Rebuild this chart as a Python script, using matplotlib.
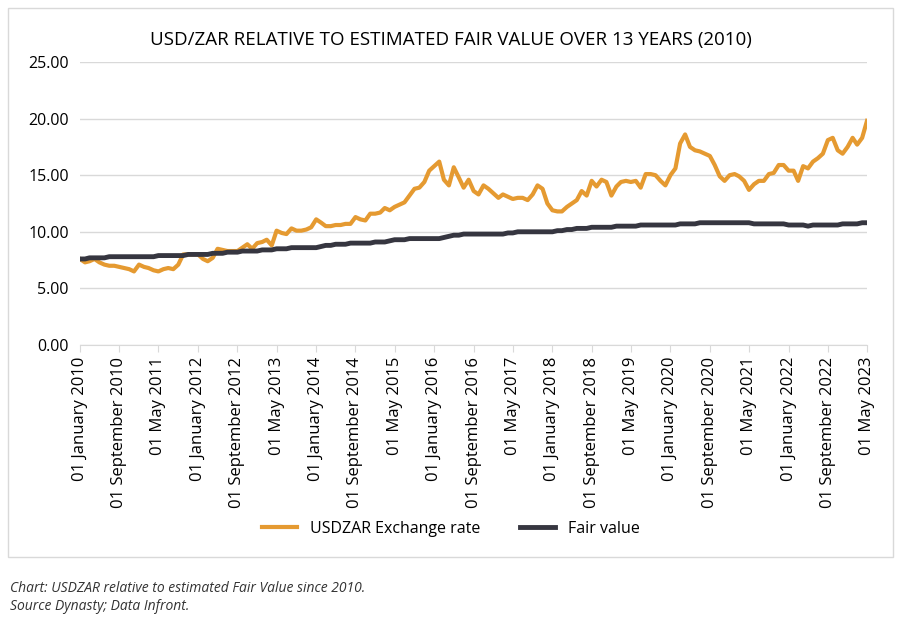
import matplotlib
matplotlib.use("Agg")
import matplotlib.pyplot as plt
import matplotlib.patches as mpatches
import pandas as pd

plt.rcParams['font.family'] = ['Open Sans', 'DejaVu Sans']

# monthly values, Jan 2010 .. May 2023
usdzar = [
    7.6, 7.3, 7.4, 7.6, 7.3, 7.1, 7.0, 7.0, 6.9, 6.8, 6.7, 6.5,
    7.1, 6.9, 6.8, 6.6, 6.5, 6.7, 6.8, 6.7, 7.1, 8.0, 8.0, 8.0,
    8.0, 7.6, 7.4, 7.7, 8.5, 8.4, 8.3, 8.3, 8.3, 8.6, 8.9, 8.5,
    9.0, 9.1, 9.3, 8.8, 10.1, 9.9, 9.8, 10.3, 10.1, 10.1, 10.2, 10.4,
    11.1, 10.8, 10.5, 10.5, 10.6, 10.6, 10.7, 10.7, 11.3, 11.1, 11.0, 11.6,
    11.6, 11.7, 12.1, 11.9, 12.2, 12.4, 12.6, 13.2, 13.8, 13.9, 14.4, 15.4,
    15.8, 16.2, 14.6, 14.1, 15.7, 14.8, 13.9, 14.6, 13.6, 13.3, 14.1, 13.8,
    13.4, 13.0, 13.3, 13.1, 12.9, 13.0, 13.0, 12.8, 13.3, 14.1, 13.8, 12.5,
    11.9, 11.8, 11.8, 12.2, 12.5, 12.8, 13.6, 13.2, 14.5, 14.0, 14.6, 14.4,
    13.2, 14.0, 14.4, 14.5, 14.4, 14.5, 13.9, 15.1, 15.1, 15.0, 14.5, 14.1,
    15.0, 15.6, 17.8, 18.6, 17.5, 17.2, 17.1, 16.9, 16.7, 15.9, 14.9, 14.5,
    15.0, 15.1, 14.9, 14.5, 13.7, 14.2, 14.5, 14.5, 15.1, 15.2, 15.9, 15.9,
    15.4, 15.4, 14.5, 15.8, 15.6, 16.2, 16.5, 16.9, 18.1, 18.3, 17.2, 16.9,
    17.5, 18.3, 17.7, 18.3, 19.8,
]
fair_value = [
    7.6, 7.6, 7.7, 7.7, 7.7, 7.7, 7.8, 7.8, 7.8, 7.8, 7.8, 7.8,
    7.8, 7.8, 7.8, 7.8, 7.9, 7.9, 7.9, 7.9, 7.9, 7.9, 8.0, 8.0,
    8.0, 8.0, 8.0, 8.1, 8.1, 8.1, 8.2, 8.2, 8.2, 8.3, 8.3, 8.3,
    8.3, 8.4, 8.4, 8.4, 8.5, 8.5, 8.5, 8.6, 8.6, 8.6, 8.6, 8.6,
    8.6, 8.7, 8.8, 8.8, 8.9, 8.9, 8.9, 9.0, 9.0, 9.0, 9.0, 9.0,
    9.1, 9.1, 9.1, 9.2, 9.3, 9.3, 9.3, 9.4, 9.4, 9.4, 9.4, 9.4,
    9.4, 9.4, 9.5, 9.6, 9.7, 9.7, 9.8, 9.8, 9.8, 9.8, 9.8, 9.8,
    9.8, 9.8, 9.8, 9.9, 9.9, 10.0, 10.0, 10.0, 10.0, 10.0, 10.0, 10.0,
    10.0, 10.1, 10.1, 10.2, 10.2, 10.3, 10.3, 10.3, 10.4, 10.4, 10.4, 10.4,
    10.4, 10.5, 10.5, 10.5, 10.5, 10.5, 10.6, 10.6, 10.6, 10.6, 10.6, 10.6,
    10.6, 10.6, 10.7, 10.7, 10.7, 10.7, 10.8, 10.8, 10.8, 10.8, 10.8, 10.8,
    10.8, 10.8, 10.8, 10.8, 10.8, 10.7, 10.7, 10.7, 10.7, 10.7, 10.7, 10.7,
    10.6, 10.6, 10.6, 10.6, 10.5, 10.6, 10.6, 10.6, 10.6, 10.6, 10.6, 10.7,
    10.7, 10.7, 10.7, 10.8, 10.8,
]
dates = pd.date_range("2010-01-01", periods=len(usdzar), freq="MS")
tick_dates = dates[::8]
tick_labels = [d.strftime("%d %B %Y") for d in tick_dates]

fig = plt.figure(figsize=(9.02, 6.33), dpi=100)
# outer border of the chart area
fig.patches.append(mpatches.Rectangle((8 / 902, 1 - 557 / 633), 885 / 902, 549 / 633,
                                      transform=fig.transFigure, fill=False,
                                      edgecolor="#d9d9d9", linewidth=1))

ax = fig.add_axes([80 / 902, 1 - 345 / 633, 787 / 902, 283 / 633])
ax.plot(dates, usdzar, color="#E59A31", linewidth=3, label="USDZAR Exchange rate")
ax.plot(dates, fair_value, color="#363640", linewidth=3.5, label="Fair value")

ax.set_ylim(0, 25)
ax.set_yticks([0, 5, 10, 15, 20, 25])
ax.set_yticklabels([f"{v:.2f}" for v in [0, 5, 10, 15, 20, 25]], fontsize=11.5)
ax.set_xlim(dates[0], dates[-1])
ax.set_xticks(tick_dates)
ax.set_xticklabels(tick_labels, rotation=90, fontsize=12)
ax.grid(axis="y", color="#d9d9d9", linewidth=1)
ax.set_axisbelow(True)
for s in ["top", "right", "left"]:
    ax.spines[s].set_visible(False)
ax.spines["bottom"].set_color("#d9d9d9")
ax.tick_params(axis="y", length=0, pad=8)
ax.tick_params(axis="x", length=5, color="#d9d9d9")

fig.text(0.5, 1 - 40 / 633, "USD/ZAR RELATIVE TO ESTIMATED FAIR VALUE OVER 13 YEARS (2010)",
         ha="center", va="center", fontsize=13.5)
fig.legend(loc="center", bbox_to_anchor=(0.5, 1 - 529 / 633), ncol=2, frameon=False,
           fontsize=11.5, handlelength=2.2, columnspacing=2.5)

fig.text(10 / 902, 1 - 589 / 633, "Chart: USDZAR relative to estimated Fair Value since 2010.",
         fontsize=10, style="italic", va="center", color="#333333")
fig.text(10 / 902, 1 - 607 / 633, "Source Dynasty; Data Infront.",
         fontsize=10, style="italic", va="center", color="#333333")

fig.savefig("out.png", dpi=100)
